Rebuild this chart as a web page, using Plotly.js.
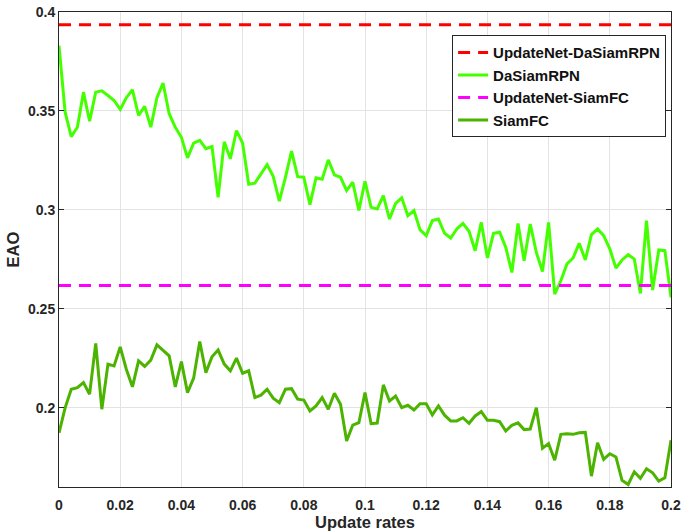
<!DOCTYPE html>
<html><head><meta charset="utf-8">
<script src="https://cdn.plot.ly/plotly-3.0.1.min.js"></script>
<style>body{margin:0;background:#fff}#chart{width:683px;height:531px}</style>
</head><body><div id="chart"></div>
<script>
const updateRates = Array.from({length:101},(_,i)=>+(i*0.002).toFixed(3));
const daSiamRPN = [0.383,0.3494,0.337,0.3418,0.3595,0.3448,0.3595,0.3602,0.3578,0.3553,
0.3508,0.3567,0.3607,0.3477,0.3523,0.3418,0.3567,0.3641,0.3486,0.3418,
0.3367,0.3263,0.3337,0.3351,0.3309,0.332,0.3064,0.3344,0.3258,0.3401,
0.3337,0.313,0.3135,0.3182,0.3229,0.317,0.3044,0.3165,0.3297,0.3168,
0.3165,0.3027,0.3162,0.3155,0.3253,0.3177,0.3165,0.3098,0.314,0.2997,
0.3145,0.3013,0.3005,0.3072,0.2954,0.3033,0.3061,0.2971,0.2997,0.2899,
0.287,0.2946,0.2954,0.2882,0.2858,0.2904,0.2932,0.2892,0.2794,0.2937,
0.2757,0.2882,0.2887,0.2811,0.2684,0.2932,0.2743,0.2929,0.2785,0.2689,
0.2937,0.2575,0.2642,0.2727,0.2757,0.2831,0.2747,0.2875,0.2904,0.287,
0.2803,0.2706,0.2747,0.2774,0.2752,0.2578,0.2946,0.2595,0.2798,0.2794,0.2558];
const siamFC = [0.1874,0.2,0.2094,0.2102,0.2128,0.2069,0.2325,0.1993,0.2221,0.2212,
0.2308,0.2195,0.2106,0.2237,0.2209,0.2241,0.2318,0.2292,0.2263,0.2106,
0.2234,0.2077,0.215,0.2335,0.2178,0.2258,0.2292,0.2221,0.2187,0.2251,
0.2175,0.2187,0.2052,0.2064,0.2094,0.2049,0.2026,0.2094,0.2097,0.2044,
0.2039,0.1984,0.201,0.2052,0.1993,0.2074,0.2018,0.1833,0.1913,0.1925,
0.2077,0.192,0.1923,0.2116,0.2035,0.206,0.2001,0.2013,0.1989,0.2021,
0.2021,0.1964,0.201,0.1963,0.1934,0.1934,0.195,0.1922,0.1959,0.1981,
0.1937,0.1937,0.193,0.1883,0.1912,0.1924,0.189,0.1893,0.2001,0.1796,
0.1819,0.1735,0.1866,0.1869,0.1866,0.1874,0.1876,0.1655,0.1824,0.174,
0.1768,0.1752,0.1634,0.1613,0.1677,0.1644,0.1692,0.1672,0.163,0.1647,0.1836];
const updateNetDaSiamRPN = 0.3935;
const updateNetSiamFC = 0.2618;
const xTicks = [0,0.02,0.04,0.06,0.08,0.1,0.12,0.14,0.16,0.18,0.2];
const xTickText = ['0','0.02','0.04','0.06','0.08','0.1','0.12','0.14','0.16','0.18','0.2'];
const yTicks = [0.2,0.25,0.3,0.35,0.4];
const yTickText = ['0.2','0.25','0.3','0.35','0.4'];

const xEnds = [updateRates[0], updateRates[updateRates.length-1]];
const traces = [
 {x:xEnds, y:[updateNetDaSiamRPN,updateNetDaSiamRPN], name:'UpdateNet-DaSiamRPN', mode:'lines',
  line:{color:'#ff0000', width:3, dash:'12px,8px'}},
 {x:updateRates, y:daSiamRPN, name:'DaSiamRPN', mode:'lines', line:{color:'#44ff00', width:3}},
 {x:xEnds, y:[updateNetSiamFC,updateNetSiamFC], name:'UpdateNet-SiamFC', mode:'lines',
  line:{color:'#ff00ff', width:3, dash:'12px,8px'}},
 {x:updateRates, y:siamFC, name:'SiamFC', mode:'lines', line:{color:'#4cb400', width:3}}
];
const font = {family:'"Liberation Sans", Arial, sans-serif', size:14, color:'#262626'};
const tickFont = {family:font.family, size:14, color:'#262626', weight:'bold'};
const titleFont = {family:font.family, size:16.5, color:'#262626', weight:'bold'};
const layout = {
  width:683, height:531, paper_bgcolor:'#fff', plot_bgcolor:'#fff', font:font,
  margin:{l:58.5, r:11.5, t:11.7, b:44.3},
  showlegend:true,
  legend:{x:0.992, y:0.951, xanchor:'right', yanchor:'top', bgcolor:'#fff', bordercolor:'#262626', borderwidth:1,
    font:{family:font.family, size:15, color:'#111', weight:'bold'}, tracegroupgap:0, itemwidth:30},
  xaxis:{range:[0,0.2], tickvals:xTicks, ticktext:xTickText, tickfont:tickFont,
    showline:true, linecolor:'#262626', linewidth:1, mirror:true,
    ticks:'outside', ticklen:5, tickcolor:'rgba(0,0,0,0)',
    showgrid:true, gridcolor:'#e3e3e3', gridwidth:1, zeroline:false,
    title:{text:'Update rates', font:titleFont, standoff:0}},
  xaxis2:{range:[0,0.2], overlaying:'x', anchor:'y', side:'bottom', tickvals:xTicks, showticklabels:false,
    showline:false, ticks:'inside', ticklen:5, tickcolor:'#262626', mirror:'ticks',
    showgrid:false, zeroline:false},
  yaxis:{range:[0.16,0.4], tickvals:yTicks, ticktext:yTickText, tickfont:tickFont,
    showline:true, linecolor:'#262626', linewidth:1, mirror:'ticks',
    ticks:'inside', ticklen:5, tickcolor:'#262626',
    showgrid:true, gridcolor:'#e3e3e3', gridwidth:1, zeroline:false,
    title:{text:'EAO', font:titleFont, standoff:4}}
};
Plotly.newPlot('chart', traces, layout, {displayModeBar:false});
</script></body></html>
